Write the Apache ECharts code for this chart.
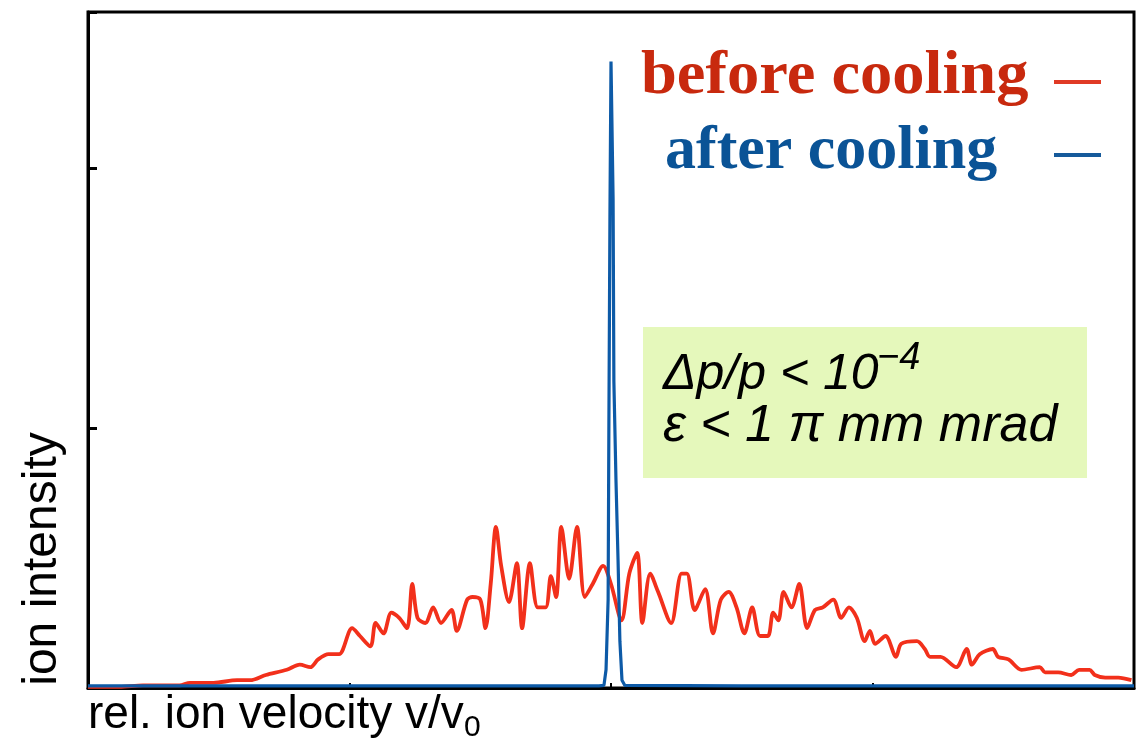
<!DOCTYPE html>
<html>
<head>
<meta charset="utf-8">
<script src="https://cdn.jsdelivr.net/npm/echarts@6/dist/echarts.min.js"></script>
<style>
html,body{margin:0;padding:0;background:#fff;}
#chart{width:1138px;height:738px;}
</style>
</head>
<body>
<div id="chart"></div>
<script>
// relative velocity (arbitrary units) and ion intensity (arbitrary units)
var redX = [-2.00,-1.88,-1.79,-1.65,-1.61,-1.52,-1.43,-1.38,-1.32,-1.24,-1.19,-1.15,-1.12,-1.08,-1.04,-0.99,-0.96,-0.92,-0.90,-0.87,-0.84,-0.81,-0.78,-0.76,-0.74,-0.71,-0.68,-0.65,-0.61,-0.59,-0.55,-0.53,-0.50,-0.48,-0.46,-0.44,-0.42,-0.39,-0.36,-0.34,-0.31,-0.28,-0.25,-0.23,-0.21,-0.19,-0.16,-0.13,-0.10,-0.07,-0.03,0.00,0.04,0.07,0.10,0.12,0.15,0.18,0.23,0.27,0.29,0.32,0.36,0.39,0.42,0.45,0.48,0.51,0.54,0.57,0.60,0.62,0.64,0.66,0.69,0.72,0.75,0.78,0.81,0.85,0.88,0.91,0.94,0.97,0.99,1.01,1.05,1.09,1.11,1.17,1.20,1.22,1.26,1.32,1.36,1.38,1.41,1.46,1.48,1.52,1.57,1.64,1.66,1.71,1.76,1.79,1.83,1.85,1.89,1.94,1.99];
var redY = [0.004,0.004,0.01,0.01,0.02,0.02,0.03,0.03,0.05,0.07,0.09,0.08,0.11,0.13,0.13,0.23,0.20,0.16,0.25,0.21,0.29,0.27,0.23,0.40,0.27,0.25,0.31,0.25,0.30,0.22,0.34,0.35,0.34,0.23,0.40,0.62,0.47,0.33,0.48,0.23,0.48,0.31,0.31,0.43,0.35,0.62,0.42,0.62,0.35,0.40,0.47,0.40,0.26,0.44,0.52,0.25,0.44,0.37,0.25,0.44,0.44,0.30,0.38,0.21,0.34,0.37,0.31,0.21,0.31,0.20,0.20,0.29,0.26,0.37,0.31,0.40,0.23,0.30,0.31,0.34,0.27,0.31,0.27,0.18,0.22,0.17,0.20,0.12,0.17,0.18,0.15,0.12,0.12,0.08,0.15,0.09,0.13,0.15,0.12,0.11,0.07,0.08,0.06,0.06,0.05,0.07,0.07,0.05,0.04,0.04,0.03];
var blueX = [-2.00,-1.00,-0.50,-0.046,-0.027,-0.019,-0.011,-0.008,-0.004,0.000,0.008,0.011,0.019,0.027,0.034,0.042,0.053,0.50,1.00,2.00];
var blueY = [0.008,0.008,0.008,0.008,0.01,0.07,0.34,1.03,1.83,2.41,1.88,1.18,0.80,0.49,0.18,0.03,0.01,0.008,0.008,0.008];
var seriesNames = ['before cooling','after cooling'];
var axisTitles = ['ion intensity','rel. ion velocity v/v','0'];
var noteLines = ['\u0394p/p < 10','\u22124','\u03b5 < 1 \u03c0 mm mrad'];

function pairs(xs, ys){ return xs.map(function(x,i){ return [x, ys[i]]; }); }

var chart = echarts.init(document.getElementById('chart'), null, {renderer:'canvas'});
var SANS = '"Liberation Sans", Arial, sans-serif';
var SERIF = '"Liberation Serif", "Times New Roman", serif';
var RED = '#f2301b', BLUE = '#0d5aa7';

chart.setOption({
  animation: false,
  backgroundColor: '#ffffff',
  grid: {left: 88, right: 4, top: 12, bottom: 50, show: true, borderColor: '#000', borderWidth: 3, backgroundColor: 'transparent'},
  xAxis: {
    type: 'value', min: -2, max: 2, interval: 1,
    axisLine: {show: true, onZero: false, lineStyle: {color: '#000', width: 3}},
    axisTick: {show: true, inside: true, length: 5, lineStyle: {color: '#000', width: 2}},
    axisLabel: {show: false}, splitLine: {show: false}
  },
  yAxis: {
    type: 'value', min: 0, max: 2.6, interval: 1,
    axisLine: {show: true, onZero: false, lineStyle: {color: '#000', width: 3}},
    axisTick: {show: true, inside: true, length: 9, lineStyle: {color: '#000', width: 3}},
    axisLabel: {show: false}, splitLine: {show: false}
  },
  series: [
    {name: seriesNames[0], type: 'line', data: pairs(redX, redY), showSymbol: false, symbol: 'none', smooth: 0.3,
     lineStyle: {color: RED, width: 3.8}, itemStyle: {color: RED}, z: 2},
    {name: seriesNames[1], type: 'line', data: pairs(blueX, blueY), showSymbol: false, symbol: 'none',
     lineStyle: {color: BLUE, width: 3.2}, itemStyle: {color: BLUE}, z: 3}
  ],
  graphic: [
    {type: 'text', x: 641, y: 77, scaleX: 1.04, style: {text: seriesNames[0], fill: '#c8290e', font: 'bold 62px ' + SERIF, align: 'left', verticalAlign: 'middle'}, z: 10},
    {type: 'text', x: 665, y: 152, style: {text: seriesNames[1], fill: '#0a5396', font: 'bold 62px ' + SERIF, align: 'left', verticalAlign: 'middle'}, z: 10},
    {type: 'line', shape: {x1: 1054, y1: 82, x2: 1101, y2: 82}, style: {stroke: '#e03a25', lineWidth: 4}, z: 10},
    {type: 'line', shape: {x1: 1054, y1: 155, x2: 1101, y2: 155}, style: {stroke: '#165a9b', lineWidth: 4}, z: 10},
    {type: 'rect', shape: {x: 643, y: 327, width: 444, height: 151}, style: {fill: '#e5f8bb'}, z: 10},
    {type: 'text', x: 663, y: 375, style: {text: noteLines[0], fill: '#000', font: 'italic 50px ' + SANS, align: 'left', verticalAlign: 'middle'}, z: 11},
    {type: 'text', x: 877, y: 358, style: {text: noteLines[1], fill: '#000', font: 'italic 38px ' + SANS, align: 'left', verticalAlign: 'middle'}, z: 11},
    {type: 'text', x: 663, y: 427, style: {text: noteLines[2], fill: '#000', font: 'italic 52px ' + SANS, align: 'left', verticalAlign: 'middle'}, z: 11},
    {type: 'text', x: 43, y: 559, rotation: Math.PI/2, style: {text: axisTitles[0], fill: '#000', font: '48px ' + SANS, align: 'center', verticalAlign: 'middle'}, z: 11},
    {type: 'text', x: 88, y: 715, style: {text: axisTitles[1], fill: '#000', font: '46px ' + SANS, align: 'left', verticalAlign: 'middle'}, z: 11},
    {type: 'text', x: 464, y: 728, style: {text: axisTitles[2], fill: '#000', font: '30px ' + SANS, align: 'left', verticalAlign: 'middle'}, z: 11}
  ]
});
</script>
</body>
</html>
